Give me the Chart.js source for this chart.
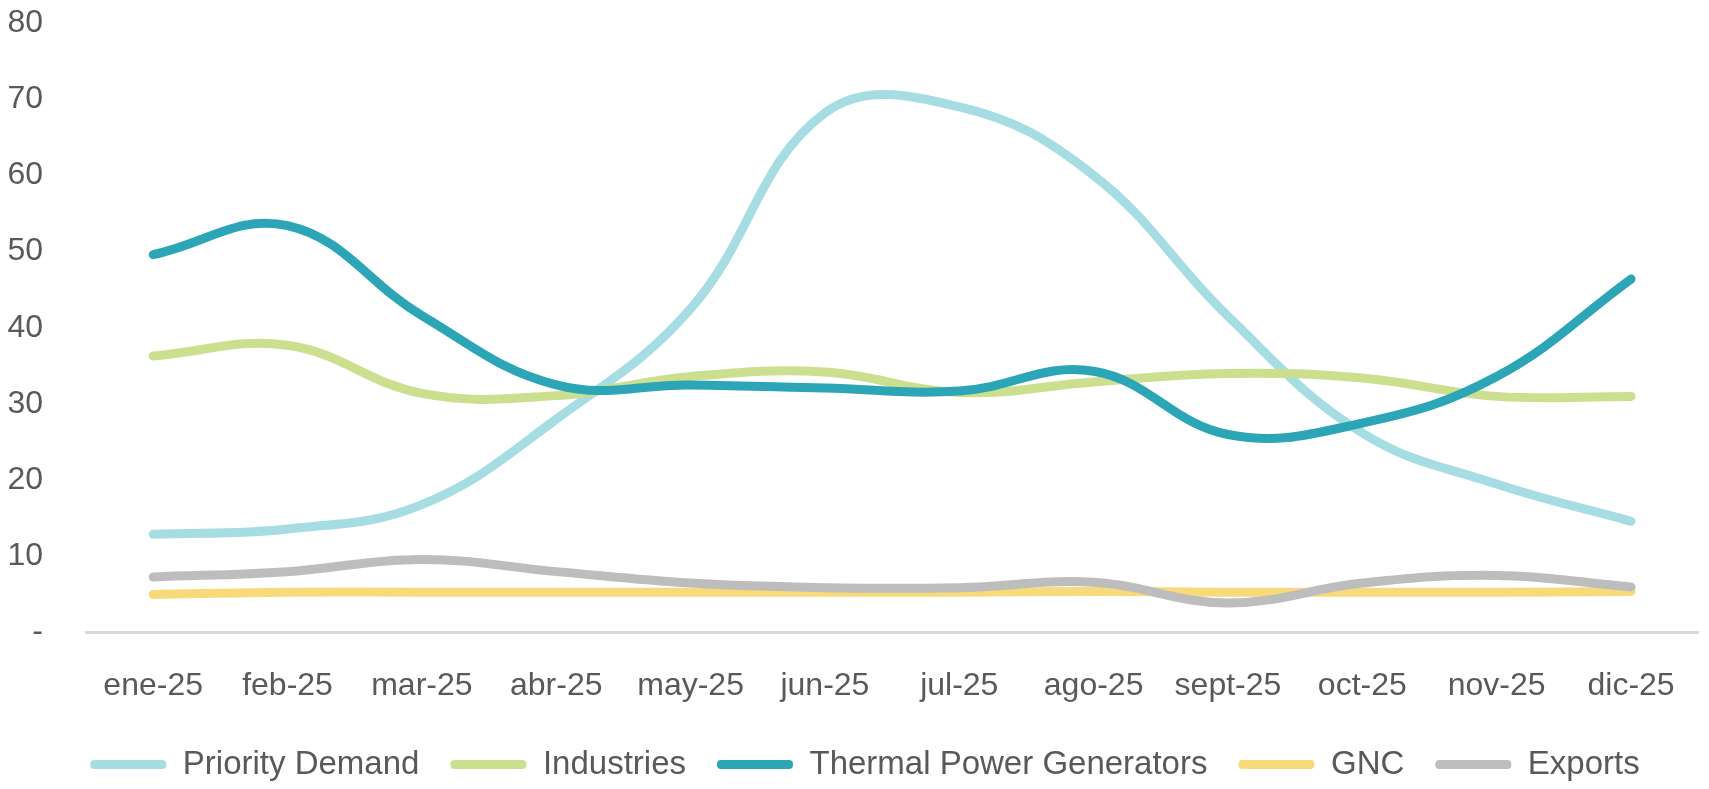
<!DOCTYPE html>
<html>
<head>
<meta charset="utf-8">
<script src="https://cdn.jsdelivr.net/npm/chart.js@4.4.1/dist/chart.umd.min.js"></script>
<style>
  html, body { margin: 0; padding: 0; background: #ffffff; }
  #contenedor { width: 1709px; height: 789px; position: relative; }
</style>
</head>
<body>
<div id="contenedor"><canvas id="graficoDemanda"></canvas></div>
<script>
// Meses (eje X)
const meses = ["ene-25", "feb-25", "mar-25", "abr-25", "may-25", "jun-25",
               "jul-25", "ago-25", "sept-25", "oct-25", "nov-25", "dic-25"];

// Series
const priorityDemand = [12.9, 13.6, 16.8, 28.0, 42.5, 68.2, 69.0, 60.0, 41.5, 26.2, 19.5, 14.6];
const industries     = [36.3, 37.7, 31.4, 31.1, 33.6, 34.2, 31.5, 32.9, 34.0, 33.4, 31.0, 31.0];
const thermal        = [49.6, 53.4, 41.6, 32.5, 32.5, 32.1, 31.7, 34.3, 26.0, 27.5, 33.6, 46.4];
const gnc            = [5.0, 5.3, 5.3, 5.3, 5.3, 5.3, 5.3, 5.4, 5.3, 5.3, 5.3, 5.4];
const exportsSerie   = [7.3, 8.0, 9.6, 8.0, 6.5, 5.9, 5.9, 6.6, 3.9, 6.5, 7.5, 6.0];

const yTicks = [0, 10, 20, 30, 40, 50, 60, 70, 80];

const series = [
    { label: "Priority Demand", data: priorityDemand, color: "#A6DDE2" },
    { label: "Industries", data: industries, color: "#CBDF8F" },
    { label: "Thermal Power Generators", data: thermal, color: "#2CA6B6" },
    { label: "GNC", data: gnc, color: "#F7DA7A" },
    { label: "Exports", data: exportsSerie, color: "#BDBDBD" }
];

const textoGris = "#595959";
const fuente = "'Liberation Sans', Arial, sans-serif";

const datasets = series.map((s, i) => ({
    label: s.label,
    data: s.data,
    borderColor: s.color,
    backgroundColor: s.color,
    borderWidth: 9,
    borderCapStyle: "round",
    borderJoinStyle: "round",
    pointRadius: 0,
    pointHoverRadius: 0,
    tension: 0.4,
    fill: false,
    // como en Excel: la última serie queda encima
    order: series.length - i
}));

// corre la leyenda un poco a la derecha, como en el original
const moverLeyenda = {
    id: "moverLeyenda",
    afterLayout(chart) {
        if (chart.legend) {
            chart.legend.left += 15;
            chart.legend.right += 15;
        }
    }
};

new Chart(document.getElementById("graficoDemanda"), {
    type: "line",
    data: {
        labels: meses,
        datasets: datasets
    },
    plugins: [moverLeyenda],
    options: {
        responsive: true,
        maintainAspectRatio: false,
        animation: false,
        layout: {
            padding: { top: 23, right: 9, bottom: -2, left: 0 }
        },
        plugins: {
            tooltip: { enabled: false },
            legend: {
                position: "bottom",
                labels: {
                    color: textoGris,
                    font: { family: fuente, size: 33 },
                    boxWidth: 76,
                    boxHeight: 9,
                    padding: 31,
                    useBorderRadius: true,
                    borderRadius: 4,
                    sort: (a, b) => a.datasetIndex - b.datasetIndex,
                    generateLabels: chart =>
                        Chart.defaults.plugins.legend.labels.generateLabels(chart).map(l => ({
                            ...l,
                            lineWidth: 0,
                            fillStyle: l.strokeStyle
                        }))
                }
            }
        },
        scales: {
            x: {
                offset: true,
                afterFit: scale => { scale.height -= 22; },
                grid: { display: false, drawTicks: false },
                border: { display: true, color: "#d9d9d9", width: 3 },
                ticks: {
                    color: textoGris,
                    font: { family: fuente, size: 32 },
                    padding: 34,
                    maxRotation: 0,
                    autoSkip: false
                }
            },
            y: {
                min: 0,
                max: 80,
                afterFit: scale => {
                    scale.width = 86;
                    scale.paddingTop = 0;
                    scale.paddingBottom = 0;
                },
                afterBuildTicks: scale => {
                    scale.ticks = yTicks.map(v => ({ value: v }));
                },
                grid: { display: false, drawTicks: false },
                border: { display: false },
                ticks: {
                    color: textoGris,
                    font: { family: fuente, size: 32 },
                    padding: 43,
                    callback: v => (v === 0 ? "-" : v)
                }
            }
        }
    }
});
</script>
</body>
</html>
